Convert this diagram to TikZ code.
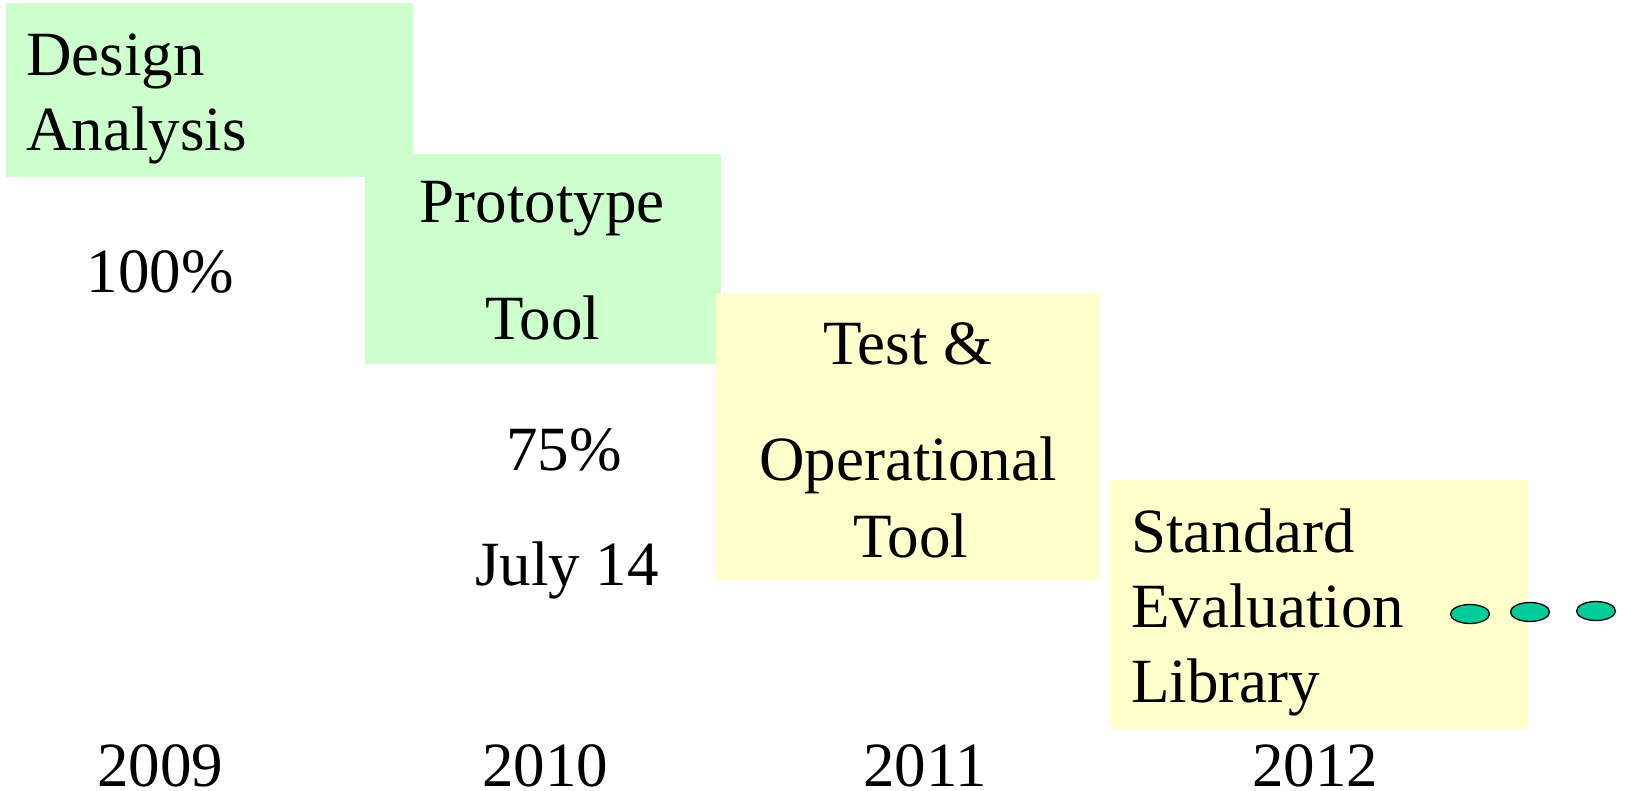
\documentclass[tikz,border=0pt]{standalone}
\usepackage{fontspec}
\setmainfont{Liberation Serif}
\usetikzlibrary{shapes.geometric}
\definecolor{phasegreen}{HTML}{CCFFCC}
\definecolor{phaseyellow}{HTML}{FFFFCC}
\definecolor{dotfill}{HTML}{00CC99}
\tikzset{
  phasebox/.style={draw=none, inner sep=0pt, anchor=north west},
  lbl/.style={anchor=base, inner sep=0pt, font=\fontsize{63}{75}\selectfont},
  lblw/.style={anchor=base west, inner sep=0pt, font=\fontsize{63}{75}\selectfont},
  dot/.style={ellipse, draw=black, line width=1.3pt, fill=dotfill, inner sep=0pt,
              minimum width=39pt, minimum height=19pt},
}
\begin{document}
\begin{tikzpicture}[x=1pt, y=-1pt]
\useasboundingbox (0,0) rectangle (1627,791);

% phase boxes, drawn in order so later phases lie on top
\node[phasebox, fill=phasegreen,  minimum width=407pt, minimum height=174pt] (b1) at (6,3) {};
\node[phasebox, fill=phasegreen,  minimum width=356pt, minimum height=210pt] (b2) at (365,154) {};
\node[phasebox, fill=phaseyellow, minimum width=383pt, minimum height=287pt] (b3) at (716,293) {};
\node[phasebox, fill=phaseyellow, minimum width=418pt, minimum height=249pt] (b4) at (1110,480) {};

% box texts
\node[lblw] (t1a) at (26,76) {Design};
\node[lblw] (t1b) at (26,151) {Analysis};
\node[lbl] (t2a) at (542,223) {Prototype};
\node[lbl] (t2b) at (543,340) {Tool};
\node[lbl] (t3a) at (908,365) {Test \&};
\node[lbl] (t3b) at (908,480) {Operational};
\node[lbl] (t3c) at (911,557) {Tool};
\node[lblw] (t4a) at (1131,552) {Standard};
\node[lblw] (t4b) at (1131,627) {Evaluation};
\node[lblw] (t4c) at (1131,702) {Library};

% progress notes
\node[lbl] (p1) at (160,293) {100\%};
\node[lbl] (p2) at (564,470) {75\%};
\node[lbl] (p3) at (567,585) {July 14};

% years
\node[lbl] (y1) at (160,786) {2009};
\node[lbl] (y2) at (545,786) {2010};
\node[lbl] (y3) at (925,786) {2011};
\node[lbl] (y4) at (1315,786) {2012};

% continuation dots
\node[dot] (d1) at (1470,614) {};
\node[dot] (d2) at (1530,612) {};
\node[dot] (d3) at (1596,611) {};
\end{tikzpicture}
\end{document}
